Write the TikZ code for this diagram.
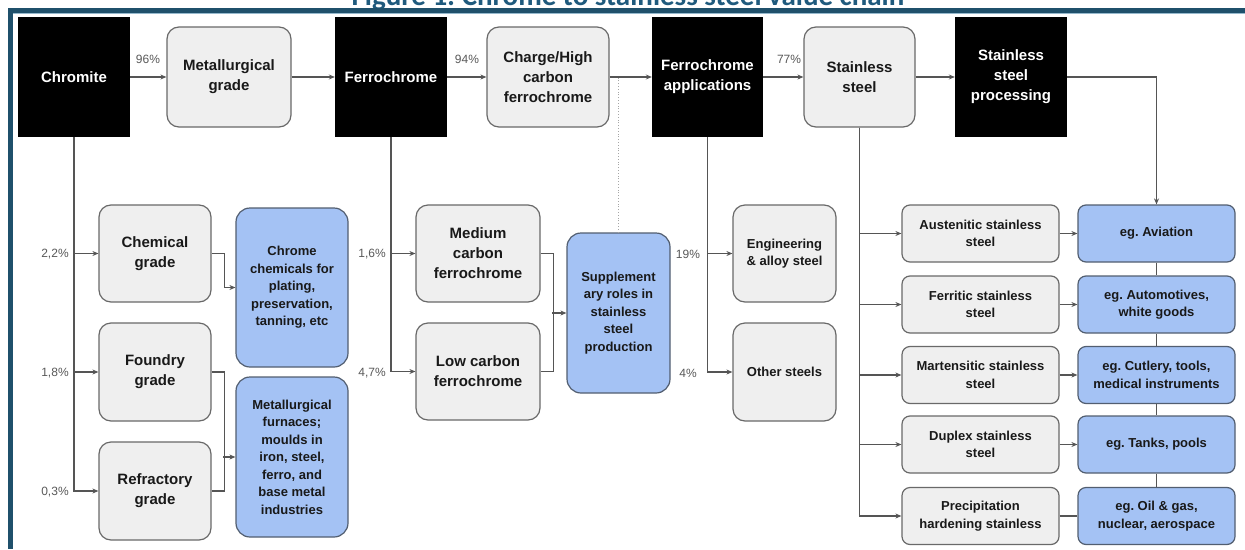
\documentclass[tikz,border=0pt]{standalone}
\usepackage{fontspec}
\setmainfont{Liberation Sans}
\newfontfamily\titlefont{Carlito}
\usetikzlibrary{arrows.meta}
\frenchspacing
\definecolor{framec}{RGB}{31,80,107}
\definecolor{framel}{RGB}{150,185,205}
\definecolor{titlec}{RGB}{31,90,125}
\definecolor{gfill}{RGB}{239,239,239}
\definecolor{gline}{RGB}{105,105,105}
\definecolor{bfill}{RGB}{164,194,244}
\definecolor{bline}{RGB}{82,94,112}
\definecolor{conncol}{RGB}{85,85,85}
\definecolor{labcol}{RGB}{89,89,89}
\definecolor{txtcol}{RGB}{25,25,25}
\tikzset{
  bigtxt/.style={font=\bfseries\fontsize{15}{20}\selectfont},
  smalltxt/.style={font=\bfseries\fontsize{13}{17.5}\selectfont},
  blk/.style={bigtxt, fill=black, text=white, align=center, inner sep=0pt, minimum width=112pt, minimum height=120pt},
  gbig/.style={bigtxt, draw=gline, fill=gfill, line width=1.2pt, rounded corners=12pt, align=center, inner sep=0pt, text=txtcol},
  gmid/.style={smalltxt, draw=gline, fill=gfill, line width=1.2pt, rounded corners=12pt, align=center, inner sep=0pt, text=txtcol},
  bbig/.style={smalltxt, draw=bline, fill=bfill, line width=1.2pt, rounded corners=14pt, align=center, inner sep=0pt, text=txtcol},
  grayrow/.style={smalltxt, draw=gline, fill=gfill, line width=1.2pt, rounded corners=8pt, align=center, inner sep=0pt, minimum width=157pt, minimum height=57pt, text=txtcol},
  bluerow/.style={smalltxt, draw=bline, fill=bfill, line width=1.2pt, rounded corners=8pt, align=center, inner sep=0pt, minimum width=157pt, minimum height=57pt, text=txtcol},
  lnk/.style={draw=conncol, line width=1.1pt},
  arr/.style={lnk, -{Stealth[length=6pt,width=5pt]}},
  pct/.style={font=\fontsize{12}{14}\selectfont, text=labcol, inner sep=0pt},
}
\begin{document}
\begin{tikzpicture}[x=1pt,y=-1pt]
\useasboundingbox (0,0) rectangle (1245,549);
\clip (0,0) rectangle (1245,549);
\fill[white] (0,0) rectangle (1245,549);
% frame and title
\node[anchor=base, inner sep=0pt, text=titlec, font=\titlefont\bfseries\fontsize{29}{32}\selectfont] (title) at (628,5) {Figure 1: Chrome to stainless steel value chain};
\fill[framec] (8,8) rectangle (1245,13);
\fill[framel] (13,13) rectangle (1245,14);
\fill[framec] (8,8) rectangle (13,549);

% top row
\node[blk] (chromite) at (74,77) {Chromite};
\node[gbig, minimum width=124pt, minimum height=100pt] (met) at (229,77) {Metallurgical\\grade};
\node[blk] (fc) at (391,77) {Ferrochrome};
\node[gbig, minimum width=122pt, minimum height=100pt] (charge) at (548,77) {Charge/High\\carbon\\ferrochrome};
\node[blk, minimum width=111pt] (fa) at (707.5,77) {Ferrochrome\\applications};
\node[gbig, minimum width=111pt, minimum height=100pt] (ss) at (859.5,77) {Stainless\\steel};
\node[blk] (proc) at (1011,77) {Stainless\\steel\\processing};

% left column
\node[gbig, minimum width=112pt, minimum height=97pt] (chem) at (155,253.5) {Chemical\\grade};
\node[gbig, minimum width=112pt, minimum height=98pt] (found) at (155,372) {Foundry\\grade};
\node[gbig, minimum width=112pt, minimum height=98pt] (refr) at (155,491) {Refractory\\grade};
\node[bbig, minimum width=112pt, minimum height=159pt] (cc) at (292,287.5) {Chrome\\chemicals for\\plating,\\preservation,\\tanning, etc};
\node[bbig, minimum width=112pt, minimum height=160pt] (furn) at (292,457) {Metallurgical\\furnaces;\\moulds in\\iron, steel,\\ferro, and\\base metal\\industries};

% middle column
\node[gbig, minimum width=124pt, minimum height=97pt] (med) at (478,253.5) {Medium\\carbon\\ferrochrome};
\node[gbig, minimum width=124pt, minimum height=97pt] (low) at (478,371.5) {Low carbon\\ferrochrome};
\node[bbig, minimum width=103pt, minimum height=160pt] (supp) at (618.5,313) {Supplement\\ary roles in\\stainless\\steel\\production};

% applications column
\node[gmid, minimum width=103pt, minimum height=97pt] (eng) at (784.5,253.5) {Engineering\\\& alloy steel};
\node[gmid, minimum width=103pt, minimum height=98pt] (oth) at (784.5,372) {Other steels};

% right rows
\node[grayrow] (aus) at (980.5,233.5) {Austenitic stainless\\steel};
\node[grayrow] (fer) at (980.5,304.5) {Ferritic stainless\\steel};
\node[grayrow] (mar) at (980.5,375) {Martensitic stainless\\steel};
\node[grayrow] (dup) at (980.5,444.5) {Duplex stainless\\steel};
\node[grayrow] (pre) at (980.5,516) {Precipitation\\hardening stainless};
\node[bluerow] (avi) at (1156.5,233.5) {eg. Aviation};
\node[bluerow] (aut) at (1156.5,304.5) {eg. Automotives,\\white goods};
\node[bluerow] (cut) at (1156.5,375) {eg. Cutlery, tools,\\medical instruments};
\node[bluerow] (tan) at (1156.5,444.5) {eg. Tanks, pools};
\node[bluerow] (oil) at (1156.5,516) {eg. Oil \& gas,\\nuclear, aerospace};

% top connectors
\draw[arr] (chromite.east) -- (met.west);
\draw[arr] (met.east) -- (fc.west);
\draw[arr] (fc.east) -- (charge.west);
\draw[arr] (charge.east) -- (fa.west);
\draw[arr] (fa.east) -- (ss.west);
\draw[arr] (ss.east) -- (proc.west);
\draw[arr] (proc.east) -| (avi.north);
\draw[draw=gray!70, line width=0.8pt, dotted] (supp.north) -- (supp.north |- charge.east);

% percentages
\node[pct] (p96) at (148,59) {96\%};
\node[pct] (p94) at (467,59) {94\%};
\node[pct] (p77) at (789,59) {77\%};
\node[pct] (p22) at (55,254) {2,2\%};
\node[pct] (p18) at (55,373) {1,8\%};
\node[pct] (p03) at (55,492) {0,3\%};
\node[pct] (p16) at (372,254) {1,6\%};
\node[pct] (p47) at (372,373) {4,7\%};
\node[pct] (p19) at (688,254) {19\%};
\node[pct] (p4) at (688,373) {4\%};

% left connectors
\draw[arr] (chromite.south) |- (chem.west);
\draw[arr] (chromite.south) |- (found.west);
\draw[arr] (chromite.south) |- (refr.west);
\draw[arr] (chem.east) -- ++(13,0) |- (cc.west);
\draw[lnk] (found.east) -- ++(13,0) |- (refr.east);
\draw[arr] (furn.west) ++(-12,0) -- (furn.west);

% middle connectors
\draw[arr] (fc.south) |- (med.west);
\draw[arr] (fc.south) |- (low.west);
\draw[lnk] (med.east) -- ++(13,0) |- (low.east);
\draw[arr] (supp.west) ++(-14,0) -- (supp.west);

% application connectors
\draw[arr] (fa.south) |- (eng.west);
\draw[arr] (fa.south) |- (oth.west);

% stainless steel connectors
\draw[arr] (ss.south) |- (aus.west);
\draw[arr] (ss.south) |- (fer.west);
\draw[arr] (ss.south) |- (mar.west);
\draw[arr] (ss.south) |- (dup.west);
\draw[arr] (ss.south) |- (pre.west);
\draw[arr] (aus.east) -- (avi.west);
\draw[arr] (fer.east) -- (aut.west);
\draw[arr] (mar.east) -- (cut.west);
\draw[arr] (dup.east) -- (tan.west);
\draw[lnk] (pre.east) -- (oil.west);
\draw[lnk] (avi.south) -- (aut.north);
\draw[lnk] (aut.south) -- (cut.north);
\draw[lnk] (cut.south) -- (tan.north);
\draw[lnk] (tan.south) -- (oil.north);
\end{tikzpicture}
\end{document}
